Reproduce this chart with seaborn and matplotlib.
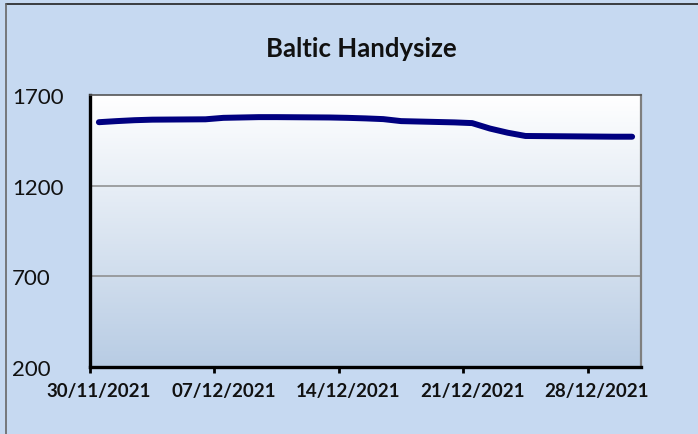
import matplotlib
matplotlib.use("Agg")
import matplotlib.pyplot as plt
import matplotlib.dates as mdates
from matplotlib.lines import Line2D
import seaborn as sns
import pandas as pd
import numpy as np

# Baltic Handysize index, business days
dates = ["2021-11-30", "2021-12-01", "2021-12-02", "2021-12-03",
         "2021-12-06", "2021-12-07", "2021-12-08", "2021-12-09", "2021-12-10",
         "2021-12-13", "2021-12-14", "2021-12-15", "2021-12-16", "2021-12-17",
         "2021-12-20", "2021-12-21", "2021-12-22", "2021-12-23", "2021-12-24",
         "2021-12-29", "2021-12-30"]
values = [1550, 1556, 1561, 1564,
          1566, 1574, 1576, 1578, 1578,
          1576, 1574, 1571, 1567, 1556,
          1549, 1545, 1515, 1492, 1474,
          1470, 1470]
tick_dates = ["2021-11-30", "2021-12-07", "2021-12-14", "2021-12-21", "2021-12-28"]
y_ticks = [200, 700, 1200, 1700]

bg = "#C6D9F1"

sns.set_style("white")
plt.rcParams["font.family"] = ["Lato", "DejaVu Sans"]

# Excel date axis puts each point in the middle of its day
df = pd.DataFrame({"date": pd.to_datetime(dates) + pd.Timedelta(hours=12),
                   "value": values})

fig = plt.figure(figsize=(6.98, 4.35), dpi=100, facecolor=bg)
ax = fig.add_axes([90 / 698, 1 - 368 / 435, 551 / 698, 272 / 435])
ax.set_facecolor("white")

# gradient plot area: white at the top to light blue at the bottom
top = np.array([1.0, 1.0, 1.0])
bot = np.array([0xB8, 0xCC, 0xE4]) / 255
t = np.linspace(0, 1, 256)[:, None]
grad = (top * (1 - t) + bot * t)[:, None, :]
ax.imshow(grad, extent=[0, 1, 0, 1], transform=ax.transAxes,
          aspect="auto", zorder=0, interpolation="bilinear")

for y in [700, 1200]:
    ax.axhline(y, color="#8A8A8A", lw=1.1, zorder=1)

sns.lineplot(data=df, x="date", y="value", ax=ax, color="#000080",
             lw=4.3, solid_capstyle="round", zorder=3)

ax.set_xlim(pd.Timestamp("2021-11-30"), pd.Timestamp("2021-12-31"))
ax.set_ylim(200, 1700)
ax.set_xlabel("")
ax.set_ylabel("")

# tick marks on the dates, labels centred on the day
tk = pd.to_datetime(tick_dates)
ax.set_xticks(tk)
ax.set_xticklabels([])
ax.set_xticks(tk + pd.Timedelta(hours=12), minor=True)
ax.set_xticklabels([d.strftime("%d/%m/%Y") for d in tk], minor=True,
                   fontsize=13.5, fontweight="bold", color="#111111")
ax.tick_params(axis="x", which="major", direction="out", length=4,
               width=2, color="black", bottom=True)
ax.tick_params(axis="x", which="minor", length=0, pad=11)

ax.set_yticks(y_ticks)
ax.set_yticklabels([str(v) for v in y_ticks], fontsize=16, color="#111111")
ax.tick_params(axis="y", length=0, pad=56)
for lab in ax.get_yticklabels():
    lab.set_horizontalalignment("left")

for side in ["left", "bottom"]:
    ax.spines[side].set_color("black")
    ax.spines[side].set_linewidth(2.4)
ax.spines["top"].set_color("#555555")
ax.spines["top"].set_linewidth(1.2)
ax.spines["right"].set_color("#7F7F7F")
ax.spines["right"].set_linewidth(1.6)

fig.text(361 / 698, 1 - 49 / 435, "Baltic Handysize", ha="center",
         va="center", fontsize=18.5, fontweight="bold", color="#111111")

# chart border (cropped at right/bottom)
fig.add_artist(Line2D([6 / 698, 1], [1 - 5 / 435, 1 - 5 / 435],
                      transform=fig.transFigure, color="#222222", lw=1.2))
fig.add_artist(Line2D([6 / 698, 6 / 698], [0, 1 - 5 / 435],
                      transform=fig.transFigure, color="#666666", lw=1.2))

fig.savefig("out.png", dpi=100, facecolor=bg)
